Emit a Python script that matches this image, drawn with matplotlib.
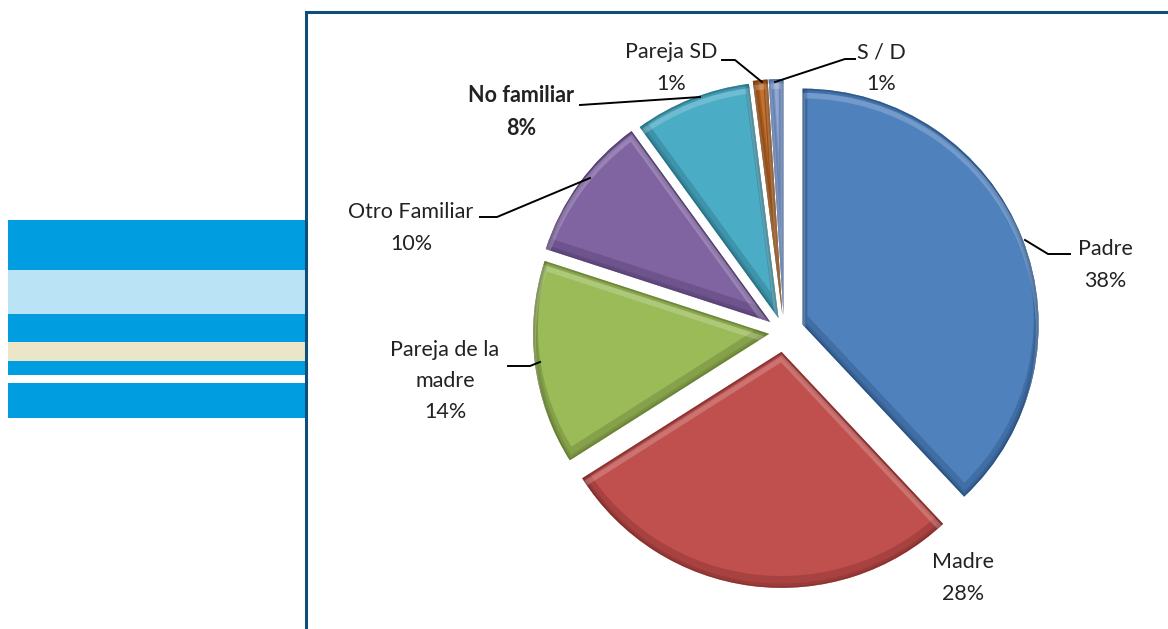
import matplotlib
matplotlib.use('Agg')
import matplotlib.pyplot as plt
from matplotlib.patches import Wedge

plt.rcParams['font.family'] = ['Lato', 'DejaVu Sans']

categories = ['Padre', 'Madre', 'Pareja de la\nmadre', 'Otro Familiar', 'No familiar', 'Pareja SD', 'S / D']
values = [38, 28, 14, 10, 8, 1, 1]
colors = ['#4f81bd', '#c0504d', '#9bbb59', '#8064a2', '#4bacc6', '#c8702a', '#8fa9d3']
darks = ['#1f4470', '#6e2422', '#54692a', '#43305e', '#20606f', '#5e3008', '#3f5a8c']
# pie() takes these in data units, so pixels here
explode = [20, 20, 15, 17, 15, 17, 17]
weights = ['normal', 'normal', 'normal', 'normal', 'bold', 'normal', 'normal']

band_rows = [(220, 270, '#009ee0'), (270, 314, '#bae4f6'), (314, 342, '#009ee0'),
             (342, 361, '#ebe6c8'), (361, 375, '#009ee0'), (383, 418, '#009ee0')]

# text position, then leader line points
label_pos = [(1105, 265), (963, 578), (445, 381), (411, 228), (521, 112), (671, 68), (881, 68)]
leaders = [[(1025, 240), (1048, 254), (1070, 254)],
           [],
           [(508, 366), (530, 366), (540, 362)],
           [(480, 217), (497, 217), (590, 178)],
           [(580, 105), (700, 97)],
           [(722, 60), (735, 60), (762, 82)],
           [(775, 82), (845, 59), (855, 59)]]

fig = plt.figure(figsize=(11.68, 6.29), dpi=100)
ax = fig.add_axes([0, 0, 1, 1])

wedges, _ = ax.pie(values, explode=explode, colors=colors, startangle=90, counterclock=False,
                   radius=236, center=(784, 629 - 332), frame=True)

# bevel look, edges are clipped to the wedge so they only show inside
for w, dark in zip(wedges, darks):
    cx, cy = w.center
    layers = [(0, 0, dark, 6, 0.25), (0, 0, dark, 2.5, 0.5),
              (0, 7, dark, 7, 0.3), (0, -7, 'white', 4, 0.2)]
    for dx, dy, c, lw, alpha in layers:
        p = Wedge((cx + dx, cy + dy), w.r, w.theta1, w.theta2, facecolor='none',
                  edgecolor=c, linewidth=lw, alpha=alpha, zorder=3)
        ax.add_patch(p)
        p.set_clip_path(w)

ax.set_xlim(0, 1168)
ax.set_ylim(0, 629)
ax.set_aspect('equal')
ax.axis('off')

for top, bottom, c in band_rows:
    ax.fill_between([8, 305], 629 - top, 629 - bottom, color=c, lw=0)

ax.plot([306, 306, 1168], [0, 617, 617], color='#0f4d7a', lw=2.2, solid_joinstyle='miter')

for name, v, pos, pts, fw in zip(categories, values, label_pos, leaders, weights):
    ax.text(pos[0], 629 - pos[1], '%s\n%d%%' % (name, v), ha='center', va='center',
            fontsize=15.5, color='#222222', linespacing=1.7, fontweight=fw, zorder=5)
    ax.plot([p[0] for p in pts], [629 - p[1] for p in pts], color='black', lw=1.4, zorder=4)

fig.savefig('out.png', dpi=100)
